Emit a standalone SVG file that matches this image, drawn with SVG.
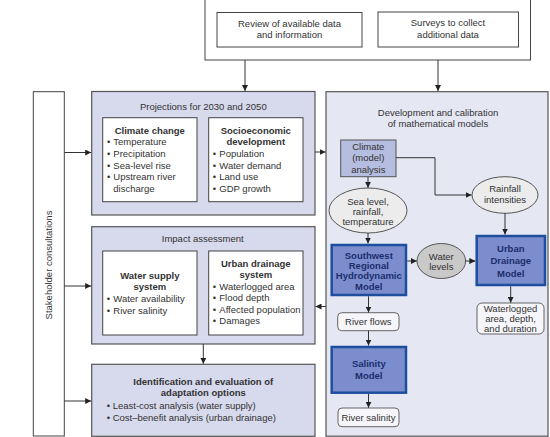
<svg xmlns="http://www.w3.org/2000/svg" width="550" height="437" viewBox="0 0 550 437">
<style>
text{font-family:"Liberation Sans",Arial,sans-serif;font-size:9.5px;fill:#333}
.c{text-anchor:middle}
.b{font-weight:bold}
.m{font-weight:bold;fill:#1b2d6e;text-anchor:middle}
.box{fill:#fff;stroke:#444;stroke-width:1}
.panel{fill:#d7d9ed;stroke:#555;stroke-width:1.2}
.dev{fill:#e5e7f3;stroke:#555;stroke-width:1.2}
.model{fill:#7b8dcc;stroke:#1d4f9e;stroke-width:2.5}
.res{fill:#f6f6fa;stroke:#666;stroke-width:1}
.ell{fill:#ececec;stroke:#555;stroke-width:1}
.conn{fill:none;stroke:#333;stroke-width:1;marker-end:url(#ah)}
</style>
<defs>
<marker id="ah" markerUnits="userSpaceOnUse" markerWidth="6" markerHeight="6" refX="6" refY="3" orient="auto">
<path d="M0,0 L6,3 L0,6 z" fill="#222"/>
</marker>
</defs>
<rect width="550" height="437" fill="#fff"/>

<g id="data">
<rect x="205" y="-1" width="325.5" height="61" class="box"/>
<g id="review">
<rect x="217" y="12.5" width="145" height="34.5" class="box"/>
<text x="289.5" y="26.8" class="c">Review of available data</text>
<text x="289.5" y="37.8" class="c">and information</text>
</g>
<g id="surveys">
<rect x="378" y="12" width="140.5" height="35" class="box"/>
<text x="448" y="26" class="c">Surveys to collect</text>
<text x="448" y="37.5" class="c">additional data</text>
</g>
</g>

<g id="stakeholder">
<rect x="33.3" y="91.7" width="31" height="344.3" class="box"/>
<text transform="translate(51.5,265) rotate(-90)" class="c">Stakeholder consultations</text>
</g>

<g id="projections">
<rect x="91.7" y="91.5" width="223.3" height="123.5" class="panel"/>
<text x="203.3" y="109.5" class="c">Projections for 2030 and 2050</text>
<g id="climate-change">
<rect x="102.7" y="117.7" width="94.3" height="84" class="box"/>
<text x="149.8" y="133.5" class="c b">Climate change</text>
<text x="107" y="145.2">•</text><text x="113.3" y="145.2">Temperature</text>
<text x="107" y="156.9">•</text><text x="113.3" y="156.9">Precipitation</text>
<text x="107" y="168.6">•</text><text x="113.3" y="168.6">Sea-level rise</text>
<text x="107" y="180.3">•</text><text x="113.3" y="180.3">Upstream river</text>
<text x="113.3" y="192">discharge</text>
</g>
<g id="socioeconomic">
<rect x="208.7" y="117.7" width="94.3" height="84" class="box"/>
<text x="255.8" y="133.5" class="c b">Socioeconomic</text>
<text x="255.8" y="145.2" class="c b">development</text>
<text x="212.7" y="156.9">•</text><text x="219.3" y="156.9">Population</text>
<text x="212.7" y="168.6">•</text><text x="219.3" y="168.6">Water demand</text>
<text x="212.7" y="180.3">•</text><text x="219.3" y="180.3">Land use</text>
<text x="212.7" y="192">•</text><text x="219.3" y="192">GDP growth</text>
</g>
</g>

<g id="impact">
<rect x="91.7" y="226.7" width="223.3" height="117.3" class="panel"/>
<text x="202.7" y="242" class="c">Impact assessment</text>
<g id="water-supply">
<rect x="102.7" y="251" width="94.3" height="84" class="box"/>
<text x="149.8" y="278.5" class="c b">Water supply</text>
<text x="149.8" y="290.2" class="c b">system</text>
<text x="106.7" y="302">•</text><text x="113.3" y="302">Water availability</text>
<text x="106.7" y="313.7">•</text><text x="113.3" y="313.7">River salinity</text>
</g>
<g id="urban-drainage-system">
<rect x="208.7" y="251" width="94.3" height="84" class="box"/>
<text x="255.8" y="266.8" class="c b">Urban drainage</text>
<text x="255.8" y="278.3" class="c b">system</text>
<text x="212.7" y="289.7">•</text><text x="219.3" y="289.7">Waterlogged area</text>
<text x="212.7" y="301.2">•</text><text x="219.3" y="301.2">Flood depth</text>
<text x="212.7" y="312.7">•</text><text x="219.3" y="312.7">Affected population</text>
<text x="212.7" y="324.2">•</text><text x="219.3" y="324.2">Damages</text>
</g>
</g>

<g id="identification">
<rect x="91.7" y="364.3" width="223.3" height="72" class="panel"/>
<text x="203.3" y="385" class="c b">Identification and evaluation of</text>
<text x="203.3" y="396.2" class="c b">adaptation options</text>
<text x="106.7" y="409">•</text><text x="112.7" y="409">Least-cost analysis (water supply)</text>
<text x="106.7" y="420.7">•</text><text x="112.7" y="420.7">Cost–benefit analysis (urban drainage)</text>
</g>

<g id="models">
<rect x="326" y="91.7" width="222" height="344.5" class="dev"/>
<text x="438" y="115.5" class="c">Development and calibration</text>
<text x="438" y="126.8" class="c">of mathematical models</text>
</g>

<g id="climate-analysis">
<rect x="340.7" y="140" width="55.3" height="36.7" fill="#b5bde0" stroke="#555" stroke-width="1"/>
<text x="368.3" y="149.5" class="c">Climate</text>
<text x="368.3" y="161" class="c">(model)</text>
<text x="368.3" y="172.5" class="c">analysis</text>
</g>
<g id="sea-level">
<ellipse cx="368" cy="210.5" rx="39" ry="22.5" class="ell"/>
<text x="368" y="205" class="c">Sea level,</text>
<text x="368" y="215" class="c">rainfall,</text>
<text x="368" y="225" class="c">temperature</text>
</g>
<g id="rainfall">
<ellipse cx="505" cy="195" rx="33" ry="18.3" class="ell"/>
<text x="505" y="191.5" class="c">Rainfall</text>
<text x="505" y="202.5" class="c">intensities</text>
</g>
<g id="sw-model">
<rect x="331.7" y="245" width="74.3" height="50" class="model"/>
<text x="368.8" y="258.5" class="m">Southwest</text>
<text x="368.8" y="268.8" class="m">Regional</text>
<text x="368.8" y="279.2" class="m">Hydrodynamic</text>
<text x="368.8" y="289.5" class="m">Model</text>
</g>
<g id="water-levels">
<ellipse cx="441.3" cy="261" rx="24.3" ry="17.5" fill="#c9c9c9" stroke="#555" stroke-width="1"/>
<text x="441.3" y="259.5" class="c">Water</text>
<text x="441.3" y="269.5" class="c">levels</text>
</g>
<g id="urban-model">
<rect x="476.7" y="236" width="68.3" height="49" class="model"/>
<text x="510.8" y="251.5" class="m">Urban</text>
<text x="510.8" y="264" class="m">Drainage</text>
<text x="510.8" y="276.5" class="m">Model</text>
</g>
<g id="waterlogged">
<rect x="477" y="303" width="67" height="31" rx="5" class="res"/>
<text x="510.5" y="312.3" class="c">Waterlogged</text>
<text x="510.5" y="322.3" class="c">area, depth,</text>
<text x="510.5" y="332.3" class="c">and duration</text>
</g>
<g id="river-flows">
<rect x="337.7" y="312.7" width="61.3" height="18" rx="4" class="res"/>
<text x="368.3" y="325" class="c">River flows</text>
</g>
<g id="salinity-model">
<rect x="331.7" y="347" width="74.3" height="45.7" class="model"/>
<text x="368.8" y="366.5" class="m">Salinity</text>
<text x="368.8" y="379" class="m">Model</text>
</g>
<g id="river-salinity">
<rect x="338" y="408" width="61" height="18.7" rx="4" class="res"/>
<text x="368.5" y="420.5" class="c">River salinity</text>
</g>

<g id="connectors">
<path d="M245,60 V91" class="conn"/>
<path d="M438,60 V91" class="conn"/>
<path d="M64.3,152.5 H91.2" class="conn"/>
<path d="M64.3,286 H91.2" class="conn"/>
<path d="M64.3,401 H91.2" class="conn"/>
<path d="M315,152 H325.5" class="conn"/>
<path d="M326,306.5 H315.5" class="conn"/>
<path d="M203.3,344 V363.8" class="conn"/>
<path d="M368,176.7 V187.8" class="conn"/>
<path d="M396,157.7 H435 V195 H471.5" class="conn"/>
<path d="M368,233 V243.5" class="conn"/>
<path d="M505,213.3 V234.5" class="conn"/>
<path d="M407.3,261 H416.8" class="conn"/>
<path d="M465.6,261 H475.3" class="conn"/>
<path d="M510.7,286.3 V302.8" class="conn"/>
<path d="M368.5,296.3 V312.5" class="conn"/>
<path d="M368.5,330.7 V345.6" class="conn"/>
<path d="M368.5,394 V407.8" class="conn"/>
</g>
</svg>
